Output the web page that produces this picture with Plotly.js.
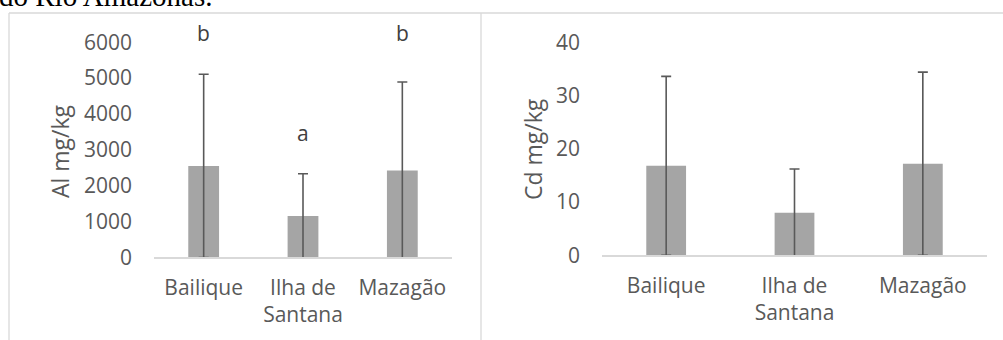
<!DOCTYPE html>
<html>
<head>
<meta charset="utf-8">
<script src="https://cdn.plot.ly/plotly-3.0.1.min.js"></script>
<style>html,body{margin:0;padding:0;background:#fff;}#chart{width:1003px;height:340px;}</style>
</head>
<body>
<div id="chart"></div>
<script>
// ---- data ----
const categories = ["Bailique", "Ilha de Santana", "Mazagão"];
const tickLabels = ["Bailique", "Ilha de<br>Santana", "Mazagão"];
const alMean = [2550, 1150, 2420];
const alSd = [2560, 1180, 2470];
const alLetters = ["b", "a", "b"];
const cdMean = [16.8, 8.0, 17.2];
const cdSd = [16.8, 8.2, 17.2];
const topText = "do Rio Amazonas.";

// ---- layout helpers (pixel -> paper) ----
const W = 1003, H = 340;
const px = x => x / W;
const py = y => 1 - y / H;

const tickFont = {family: "Open Sans", size: 21, color: "#595959"};
const barColor = "#a5a5a5";
const errColor = "#595959";
const lineColor = "#d9d9d9";

function barTrace(y, err, xa, ya) {
  return {
    type: "bar", x: categories, y: y, xaxis: xa, yaxis: ya,
    marker: {color: barColor, line: {width: 0}},
    error_y: {type: "data", array: err, symmetric: true, color: errColor, thickness: 1.6, width: 5},
    hoverinfo: "skip", showlegend: false
  };
}

const data = [
  barTrace(alMean, alSd, "x", "y"),
  barTrace(cdMean, cdSd, "x2", "y2")
];

const xCommon = {
  type: "category", showgrid: false, zeroline: false,
  showline: true, linecolor: lineColor, linewidth: 1.3,
  ticks: "", tickfont: tickFont, tickmode: "array",
  tickvals: categories, ticktext: tickLabels, ticklabelstandoff: 11,
  fixedrange: true
};
const yCommon = {
  showgrid: false, zeroline: false, showline: false,
  ticks: "", tickfont: tickFont, ticklabelstandoff: 21, fixedrange: true
};

// letter label heights (pixel rows of the picture)
const letterRow = [33, 132.7, 33];
const annotations = [];
categories.forEach((c, i) => {
  annotations.push({
    xref: "x", yref: "paper", x: c, y: py(letterRow[i]), text: alLetters[i],
    showarrow: false, font: {family: "Open Sans", size: 21, color: "#404040"},
    xanchor: "center", yanchor: "middle"
  });
});
annotations.push({
  xref: "paper", yref: "paper", x: px(60), y: py(151), text: "Al mg/kg",
  textangle: -90, showarrow: false, font: {family: "Open Sans", size: 23, color: "#595959"},
  xanchor: "center", yanchor: "middle"
});
annotations.push({
  xref: "paper", yref: "paper", x: px(533), y: py(149), text: "Cd mg/kg",
  textangle: -90, showarrow: false, font: {family: "Open Sans", size: 23, color: "#595959"},
  xanchor: "center", yanchor: "middle"
});
annotations.push({
  xref: "paper", yref: "paper", x: px(214), y: py(14), text: topText,
  showarrow: false, font: {family: "Liberation Serif", size: 29, color: "#000"},
  xanchor: "right", yanchor: "bottom"
});

const shapes = [
  {type: "line", xref: "paper", yref: "paper", x0: px(9), x1: px(1003), y0: py(13), y1: py(13), line: {color: lineColor, width: 1.3}},
  {type: "line", xref: "paper", yref: "paper", x0: px(9), x1: px(9), y0: py(13), y1: 0, line: {color: lineColor, width: 1.3}},
  {type: "line", xref: "paper", yref: "paper", x0: px(481), x1: px(481), y0: py(13), y1: 0, line: {color: lineColor, width: 1.3}}
];

const layout = {
  width: W, height: H,
  margin: {l: 0, r: 0, t: 0, b: 0},
  paper_bgcolor: "#fff", plot_bgcolor: "rgba(0,0,0,0)",
  bargap: 0.69,
  xaxis: Object.assign({}, xCommon, {domain: [px(154), px(452)], anchor: "y"}),
  yaxis: Object.assign({}, yCommon, {domain: [py(257.3), py(42.3)], range: [0, 6000], dtick: 1000, anchor: "x"}),
  xaxis2: Object.assign({}, xCommon, {domain: [px(602), px(987)], anchor: "y2"}),
  yaxis2: Object.assign({}, yCommon, {domain: [py(255.3), py(42.3)], range: [0, 40], dtick: 10, anchor: "x2"}),
  annotations: annotations,
  shapes: shapes
};

Plotly.newPlot("chart", data, layout, {staticPlot: true, displayModeBar: false});
</script>
</body>
</html>
